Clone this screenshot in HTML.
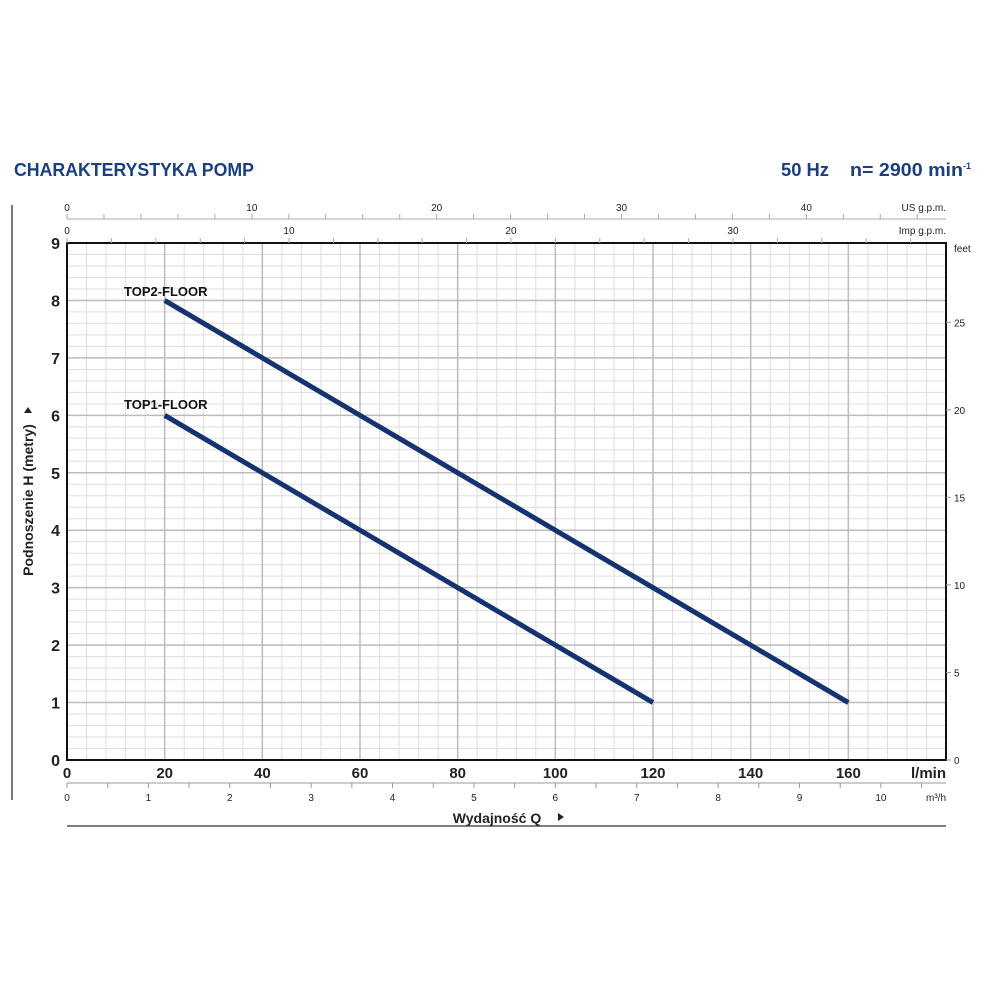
<!DOCTYPE html>
<html><head><meta charset="utf-8"><style>body{margin:0;background:#fff}svg{display:block}</style></head>
<body>
<svg id="s" width="1000" height="1000" xmlns="http://www.w3.org/2000/svg" font-family="Liberation Sans Narrow, Liberation Sans, sans-serif">
<rect width="1000" height="1000" fill="#fff"/>
<text x="14" y="176" font-size="18" font-weight="bold" fill="#1b3f7e" textLength="240" lengthAdjust="spacingAndGlyphs">CHARAKTERYSTYKA POMP</text>
<text x="781" y="176" font-size="18" font-weight="bold" fill="#1b3f7e" textLength="48" lengthAdjust="spacingAndGlyphs">50 Hz</text>
<text x="850" y="176" font-size="18" font-weight="bold" fill="#1b3f7e" textLength="113" lengthAdjust="spacingAndGlyphs">n= 2900 min</text>
<text x="963" y="169" font-size="9" font-weight="bold" fill="#1b3f7e">-1</text>
<line x1="12" y1="205" x2="12" y2="800" stroke="#777" stroke-width="2"/>
<g id="g"></g>
</svg>
<script>
const g=document.getElementById('g');let h='';
const X0=67,X1=946,Y0=760,Y1=243,px=(X1-X0)/180,py=(Y0-Y1)/9;
const X=q=>X0+q*px,Y=m=>Y0-m*py;
// minor grid
for(let q=4;q<180;q+=4){if(q%20)h+=`<line x1="${X(q)}" y1="${Y1}" x2="${X(q)}" y2="${Y0}" stroke="#ddd" stroke-width="1"/>`;}
for(let i=1;i<45;i++){if(i%5)h+=`<line x1="${X0}" y1="${Y(i/5)}" x2="${X1}" y2="${Y(i/5)}" stroke="#ddd" stroke-width="1"/>`;}
for(let q=20;q<180;q+=20)h+=`<line x1="${X(q)}" y1="${Y1}" x2="${X(q)}" y2="${Y0}" stroke="#bbb" stroke-width="1.5"/>`;
for(let m=1;m<9;m++)h+=`<line x1="${X0}" y1="${Y(m)}" x2="${X1}" y2="${Y(m)}" stroke="#bbb" stroke-width="1.5"/>`;
h+=`<rect x="${X0}" y="${Y1}" width="${X1-X0}" height="${Y0-Y1}" fill="none" stroke="#111" stroke-width="2"/>`;
// left labels
for(let m=0;m<=9;m++)h+=`<text x="60" y="${Y(m)+6}" font-size="16" font-weight="bold" text-anchor="end" fill="#222">${m}</text>`;
for(let q=0;q<=160;q+=20)h+=`<text x="${X(q)}" y="778" font-size="15" font-weight="bold" text-anchor="middle" fill="#222">${q}</text>`;
h+=`<text x="946" y="778" font-size="15" font-weight="bold" text-anchor="end" fill="#222">l/min</text>`;
// m3/h
h+=`<line x1="${X0}" y1="783" x2="${X1}" y2="783" stroke="#999"/>`;
for(let v=0;v<=10.5;v+=0.5){const x=X(v*16.667);h+=`<line x1="${x}" y1="783" x2="${x}" y2="788" stroke="#999"/>`;if(v%1==0)h+=`<text x="${x}" y="801" font-size="10" text-anchor="middle" fill="#222">${v}</text>`;}
h+=`<text x="946" y="801" font-size="10" text-anchor="end" fill="#222">m³/h</text>`;
h+=`<line x1="${X0}" y1="826" x2="${X1}" y2="826" stroke="#555" stroke-width="1.5"/>`;
h+=`<text x="497" y="823" font-size="14" font-weight="bold" text-anchor="middle" fill="#222">Wydajność Q</text><path d="M558 813 l6 4 l-6 4z" fill="#222"/>`;
// US gpm
h+=`<line x1="${X0}" y1="219" x2="${X1}" y2="219" stroke="#aaa"/>`;
for(let v=0;v<=47;v+=2){const x=X(v*3.785);if(x>X1)break;h+=`<line x1="${x}" y1="214" x2="${x}" y2="219" stroke="#aaa"/>`;if(v%10==0)h+=`<text x="${x}" y="211" font-size="10" text-anchor="middle" fill="#222">${v}</text>`;}
h+=`<text x="946" y="211" font-size="10" text-anchor="end" fill="#222">US g.p.m.</text>`;
for(let v=0;v<=39;v+=2){const x=X(v*4.546);if(x>X1)break;h+=`<line x1="${x}" y1="238" x2="${x}" y2="243" stroke="#aaa"/>`;if(v%10==0)h+=`<text x="${x}" y="234" font-size="10" text-anchor="middle" fill="#222">${v}</text>`;}
h+=`<text x="946" y="234" font-size="10" text-anchor="end" fill="#222">Imp g.p.m.</text>`;
// feet
h+=`<text x="954" y="252" font-size="10" fill="#222">feet</text>`;
for(let f=0;f<=25;f+=5){const y=Y(f*0.3048);h+=`<line x1="${X1}" y1="${y}" x2="${X1+5}" y2="${y}" stroke="#999"/>`;h+=`<text x="954" y="${y+4}" font-size="10" fill="#222">${f}</text>`;}
// y title
h+=`<text transform="translate(33 500) rotate(-90)" font-size="14" font-weight="bold" text-anchor="middle" fill="#222">Podnoszenie H  (metry)</text><path d="M24 413 l4 -6 l4 6z" fill="#222"/>`;
// curves
h+=`<line x1="${X(20)}" y1="${Y(8)}" x2="${X(160)}" y2="${Y(1)}" stroke="#14336f" stroke-width="5"/>`;
h+=`<line x1="${X(20)}" y1="${Y(6)}" x2="${X(120)}" y2="${Y(1)}" stroke="#14336f" stroke-width="5"/>`;
h+=`<text x="124" y="296" font-size="13" font-weight="bold" fill="#111">TOP2-FLOOR</text>`;
h+=`<text x="124" y="409" font-size="13" font-weight="bold" fill="#111">TOP1-FLOOR</text>`;
g.innerHTML=h;
</script>
</body></html>
